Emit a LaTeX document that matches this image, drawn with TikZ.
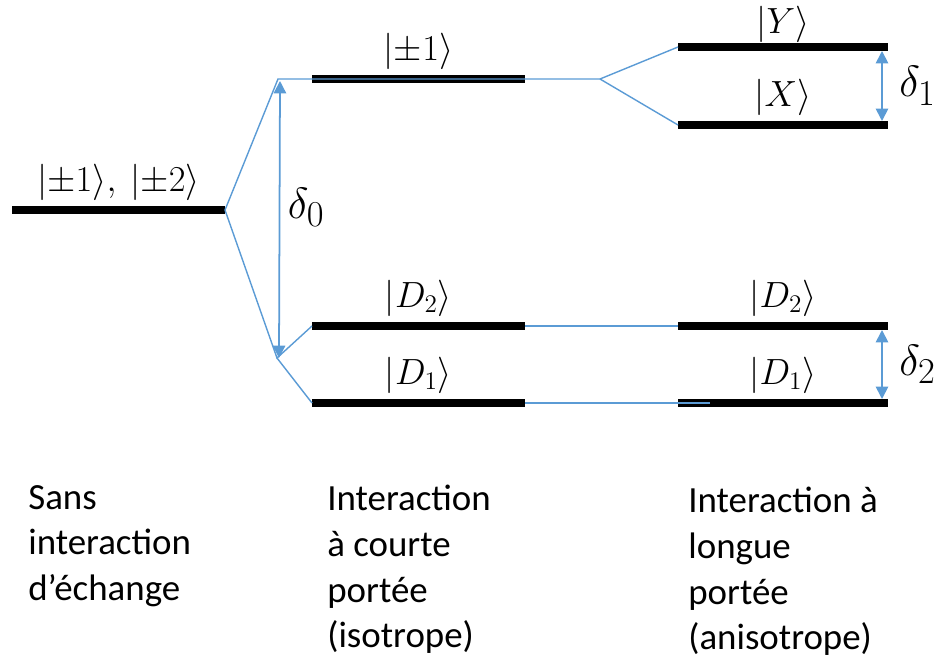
\documentclass[tikz,border=0pt]{standalone}
\usepackage{fontspec}
\setmainfont{Carlito}
\usepackage{amsmath}
\usetikzlibrary{arrows.meta,calc}
\definecolor{lineblue}{RGB}{91,155,213}
\tikzset{
  level/.style={line width=4pt},
  link/.style={lineblue, line width=0.8pt},
  gap/.style={lineblue, line width=1pt, {Triangle[length=7pt,width=7pt]}-{Triangle[length=7pt,width=7pt]}},
  ket/.style={font=\fontsize{20}{24}\selectfont, above=0pt},
  delta/.style={text=black, font=\fontsize{30}{34}\selectfont, right=1pt},
  caption/.style={align=left, anchor=north west, inner sep=0pt, font=\fontsize{21}{26}\selectfont}
}

\begin{document}
\begin{tikzpicture}[x=0.02cm,y=-0.02cm]
      \useasboundingbox (0,0) rectangle (950,659);
      % energy levels
      \coordinate (s0a) at (12,210);  \coordinate (s0b) at (225,210);
      \coordinate (p1a) at (312,79);  \coordinate (p1b) at (525,79);
      \coordinate (d2a) at (312,326); \coordinate (d2b) at (525,326);
      \coordinate (d1a) at (312,403); \coordinate (d1b) at (525,403);
      \coordinate (ya) at (678,47);   \coordinate (yb) at (888,47);
      \coordinate (xa) at (678,125);  \coordinate (xb) at (888,125);
      \coordinate (d2c) at (678,326); \coordinate (d2d) at (888,326);
      \coordinate (d1c) at (678,403); \coordinate (d1d) at (888,403);
      \draw[level] (s0a) -- (s0b) node[ket,midway] (k0) {$|{\pm}1\rangle,\ |{\pm}2\rangle$};
      \draw[level] (p1a) -- (p1b) node[ket,midway] (kp1) {$|{\pm}1\rangle$};
      \draw[level] (d2a) -- (d2b) node[ket,midway] (kd2) {$|D_2\rangle$};
      \draw[level] (d1a) -- (d1b) node[ket,midway] (kd1) {$|D_1\rangle$};
      \draw[level] (ya) -- (yb) node[ket,midway,above=-3pt] (ky) {$|Y\rangle$};
      \draw[level] (xa) -- (xb) node[ket,midway] (kx) {$|X\rangle$};
      \draw[level] (d2c) -- (d2d) node[ket,midway] (kd2r) {$|D_2\rangle$};
      \draw[level] (d1c) -- (d1d) node[ket,midway] (kd1r) {$|D_1\rangle$};
      % correlation lines
      \coordinate (up) at (278,79);
      \coordinate (dn) at (277,358);
      \coordinate (fork) at (600,79);
      \coordinate (d1end) at (710,403);
      \draw[link] (s0b) -- (up) -- (fork);
      \draw[link] (fork) -- (ya);
      \draw[link] (fork) -- (xa);
      \draw[link] (s0b) -- (dn) -- (d2a);
      \draw[link] (dn) -- (d1a);
      \draw[link] (d2b) -- (d2c);
      \draw[link] (d1b) -- (d1end);
      % splittings
      \draw[gap] ($(up)+(2,2)$) -- ($(dn)+(2,0)$) node[delta,midway,yshift=7pt] (dl0) {$\delta_0$};
      \draw[gap] ($(yb)+(-6,4)$) -- ($(xb)+(-6,-4)$) node[delta,midway,right=5pt] (dl1) {$\delta_1$};
      \draw[gap] ($(d2d)+(-6,4)$) -- ($(d1d)+(-6,-4)$) node[delta,midway,right=5pt] (dl2) {$\delta_2$};
      % regimes
      \node[caption] (c0) at (28,485) {Sans\\interaction\\d’échange};
      \node[caption] (c1) at (327,485) {Interaction\\à courte\\portée\\(isotrope)};
      \node[caption] (c2) at (688,487) {Interaction à\\longue\\portée\\(anisotrope)};
\end{tikzpicture}
\end{document}
